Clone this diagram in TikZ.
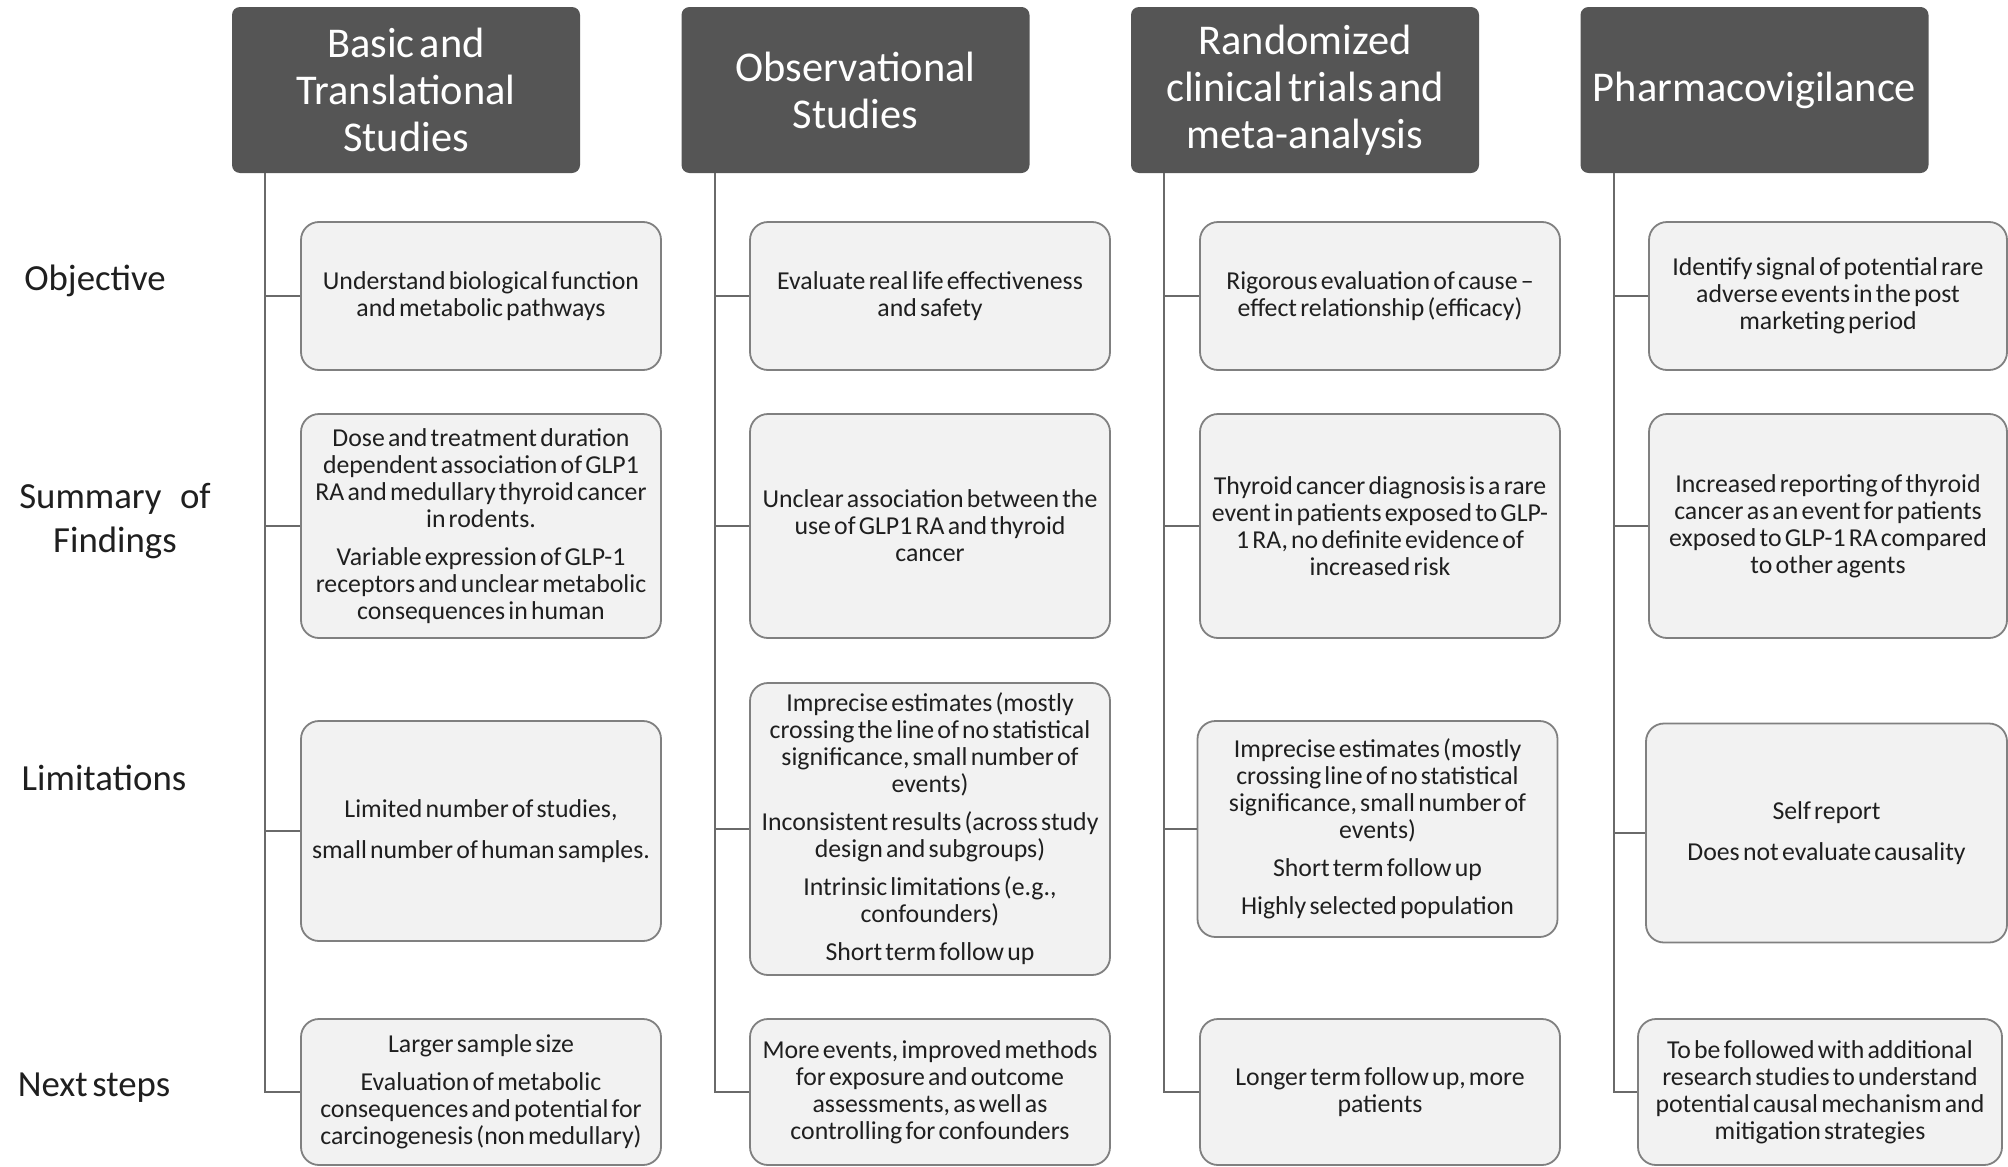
\documentclass[tikz,border=0pt]{standalone}
\usepackage{fontspec}
\setmainfont{Carlito}
\newfontfamily\cellfont[Ligatures=TeX, WordSpace=0.55]{Carlito}
\usepackage{tikz}
\usetikzlibrary{positioning, calc}
\definecolor{hdrgray}{HTML}{555555}
\definecolor{cellfill}{HTML}{F2F2F2}
\definecolor{cellline}{HTML}{808080}
\definecolor{linkgray}{HTML}{6A6A6A}
\tikzset{
  hdr/.style    ={fill=hdrgray, rounded corners=4pt, align=center, text=white,
                  minimum width=174pt, minimum height=83pt, inner sep=2pt,
                  font=\fontsize{21.2}{23.5}\selectfont},
  cell/.style   ={draw=cellline, fill=cellfill, line width=0.9pt, rounded corners=9pt,
                  align=center, minimum width=180pt, inner sep=2pt, text=black!88,
                  font=\cellfont\fontsize{12.9}{13.5}\selectfont},
  rowlbl/.style ={align=center, text=black!88, font=\fontsize{18.4}{21.8}\selectfont},
  link/.style   ={draw=linkgray, line width=0.9pt},
}
\newcommand{\gap}{\\[5.5pt]}

\begin{document}
\begin{tikzpicture}[x=0.5pt, y=-0.5pt]
  \useasboundingbox[fill=white] (0,0) rectangle (2008,1167);

  % column headers
  \node[hdr] (h1) at (406,90)    {Basic and\\Translational\\Studies};
  \node[hdr] (h2) at (855.5,90)  {Observational\\Studies};
  \node[hdr] (h3) at (1305,90)   {Randomized\\clinical trials and\\meta-analysis};
  \node[hdr] (h4) at (1754.5,90) {Pharmacovigilance};

  % row labels
  \node[rowlbl] (lobj) at (95,281)   {Objective};
  \node[rowlbl] (lsum) at (115,521)  {Summary\enspace of\\Findings};
  \node[rowlbl] (llim) at (104,778)  {Limitations};
  \node[rowlbl] (lnext) at (94,1088) {Next steps};

  % basic and translational
  \node[cell, minimum height=74pt]  (b11) at (481,296)  {Understand biological function\\and metabolic pathways};
  \node[cell, minimum height=112pt] (b12) at (481,526)  {Dose and treatment duration\\dependent association of GLP1\\RA and medullary thyroid cancer\\in rodents.\gap Variable expression of GLP-1\\receptors and unclear metabolic\\consequences in human};
  \node[cell, minimum height=110pt] (b13) at (481,831)  {Limited number of studies,\\[7pt]small number of human samples.};
  \node[cell, minimum height=73pt]  (b14) at (481,1092) {Larger sample size\gap Evaluation of metabolic\\consequences and potential for\\carcinogenesis (non medullary)};

  % observational
  \node[cell, minimum height=74pt]  (b21) at (930,296)  {Evaluate real life effectiveness\\and safety};
  \node[cell, minimum height=112pt] (b22) at (930,526)  {Unclear association between the\\use of GLP1 RA and thyroid\\cancer};
  \node[cell, minimum height=146pt] (b23) at (930,829)  {Imprecise estimates (mostly\\crossing the line of no statistical\\significance, small number of\\events)\gap Inconsistent results (across study\\design and subgroups)\gap Intrinsic limitations (e.g.,\\confounders)\gap Short term follow up};
  \node[cell, minimum height=73pt]  (b24) at (930,1092) {More events, improved methods\\for exposure and outcome\\assessments, as well as\\controlling for confounders};

  % randomized trials
  \node[cell, minimum height=74pt]  (b31) at (1380,296)   {Rigorous evaluation of cause --\\effect relationship (efficacy)};
  \node[cell, minimum height=112pt] (b32) at (1380,526)   {Thyroid cancer diagnosis is a rare\\event in patients exposed to GLP-\\1 RA, no definite evidence of\\increased risk};
  \node[cell, minimum height=108pt] (b33) at (1377.5,829) {Imprecise estimates (mostly\\crossing line of no statistical\\significance, small number of\\events)\gap Short term follow up\gap Highly selected population};
  \node[cell, minimum height=73pt]  (b34) at (1380,1092)  {Longer term follow up, more\\patients};

  % pharmacovigilance
  \node[cell, minimum height=74pt, minimum width=179pt]   (b41) at (1828,296)   {Identify signal of potential rare\\adverse events in the post\\marketing period};
  \node[cell, minimum height=112pt, minimum width=179pt]  (b42) at (1828,526)   {Increased reporting of thyroid\\cancer as an event for patients\\exposed to GLP-1 RA compared\\to other agents};
  \node[cell, minimum height=109.5pt, minimum width=180.5pt] (b43) at (1826.5,833) {Self report\\[7pt]Does not evaluate causality};
  \node[cell, minimum height=73pt, minimum width=182pt]   (b44) at (1820,1092)  {To be followed with additional\\research studies to understand\\potential causal mechanism and\\mitigation strategies};

  % trunks
  \coordinate (t1) at (265,173);
  \coordinate (t2) at (715,173);
  \coordinate (t3) at (1164,173);
  \coordinate (t4) at (1614,173);

  \draw[link] (t1) |- (b14.west);
  \draw[link] (t1 |- b11.west) -- (b11.west);
  \draw[link] (t1 |- b12.west) -- (b12.west);
  \draw[link] (t1 |- b13.west) -- (b13.west);

  \draw[link] (t2) |- (b24.west);
  \draw[link] (t2 |- b21.west) -- (b21.west);
  \draw[link] (t2 |- b22.west) -- (b22.west);
  \draw[link] (t2 |- b23.west) -- (b23.west);

  \draw[link] (t3) |- (b34.west);
  \draw[link] (t3 |- b31.west) -- (b31.west);
  \draw[link] (t3 |- b32.west) -- (b32.west);
  \draw[link] (t3 |- b33.west) -- (b33.west);

  \draw[link] (t4) |- (b44.west);
  \draw[link] (t4 |- b41.west) -- (b41.west);
  \draw[link] (t4 |- b42.west) -- (b42.west);
  \draw[link] (t4 |- b43.west) -- (b43.west);
\end{tikzpicture}
\end{document}
